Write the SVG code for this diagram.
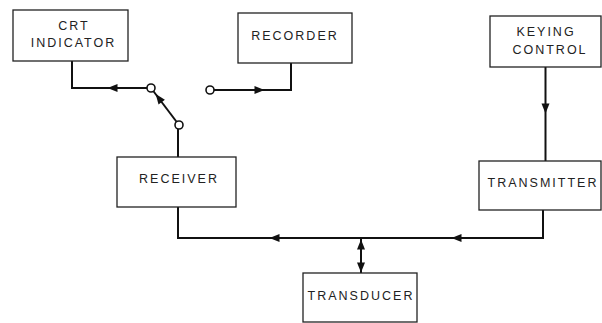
<svg xmlns="http://www.w3.org/2000/svg" xmlns:xlink="http://www.w3.org/1999/xlink" width="602" height="323" viewBox="0 0 602 323">
<style>
.box{fill:#fff;stroke:#222;stroke-width:1.3}
.lbl{font-family:"Liberation Sans",Arial,sans-serif;font-size:12.5px;letter-spacing:2px;fill:#222;text-anchor:middle}
.ln{fill:none;stroke:#111;stroke-width:2}
.sw{fill:#fff;stroke:#111;stroke-width:1.6}
.ah{fill:#111}
</style>
<defs>
<path id="ah" d="M5.5,0 L-4.5,-4 L-4.5,4 Z"/>
</defs>
<rect width="602" height="323" fill="#fff"/>
<g id="connectors">
<path class="ln" d="M72,61 V88 H147"/>
<path class="ln" d="M214,90 H291 V63"/>
<path class="ln" d="M179,125 L151,88"/>
<path class="ln" d="M178,157 V129"/>
<path class="ln" d="M545.5,67 V161"/>
<path class="ln" d="M543,210 V238 H178 V207"/>
<path class="ln" d="M361,238 V273"/>
<use href="#ah" class="ah" transform="translate(113,88) rotate(180)"/>
<use href="#ah" class="ah" transform="translate(259,90)"/>
<use href="#ah" class="ah" transform="translate(159,98.5) rotate(-127)"/>
<use href="#ah" class="ah" transform="translate(545.5,108) rotate(90)"/>
<use href="#ah" class="ah" transform="translate(457,238) rotate(180)"/>
<use href="#ah" class="ah" transform="translate(275,238) rotate(180)"/>
<use href="#ah" class="ah" transform="translate(361,245) rotate(-90)"/>
<use href="#ah" class="ah" transform="translate(361,267) rotate(90)"/>
<circle class="sw" cx="151" cy="88" r="4"/>
<circle class="sw" cx="179" cy="125" r="4"/>
<circle class="sw" cx="210" cy="90" r="4"/>
</g>
<g id="crt">
<rect class="box" x="13" y="10" width="115" height="51"/>
<text class="lbl" x="74" y="29.5">CRT</text>
<text class="lbl" x="73.5" y="47">INDICATOR</text>
</g>
<g id="recorder">
<rect class="box" x="238" y="13" width="114" height="50"/>
<text class="lbl" x="295" y="40">RECORDER</text>
</g>
<g id="keying">
<rect class="box" x="490" y="16" width="111" height="51"/>
<text class="lbl" x="546" y="36">KEYING</text>
<text class="lbl" x="550" y="54">CONTROL</text>
</g>
<g id="receiver">
<rect class="box" x="117" y="157" width="119" height="50"/>
<text class="lbl" x="179" y="183">RECEIVER</text>
</g>
<g id="transmitter">
<rect class="box" x="479" y="161" width="122" height="49"/>
<text class="lbl" x="543" y="187">TRANSMITTER</text>
</g>
<g id="transducer">
<rect class="box" x="303" y="273" width="114" height="49"/>
<text class="lbl" x="361" y="300">TRANSDUCER</text>
</g>
</svg>
